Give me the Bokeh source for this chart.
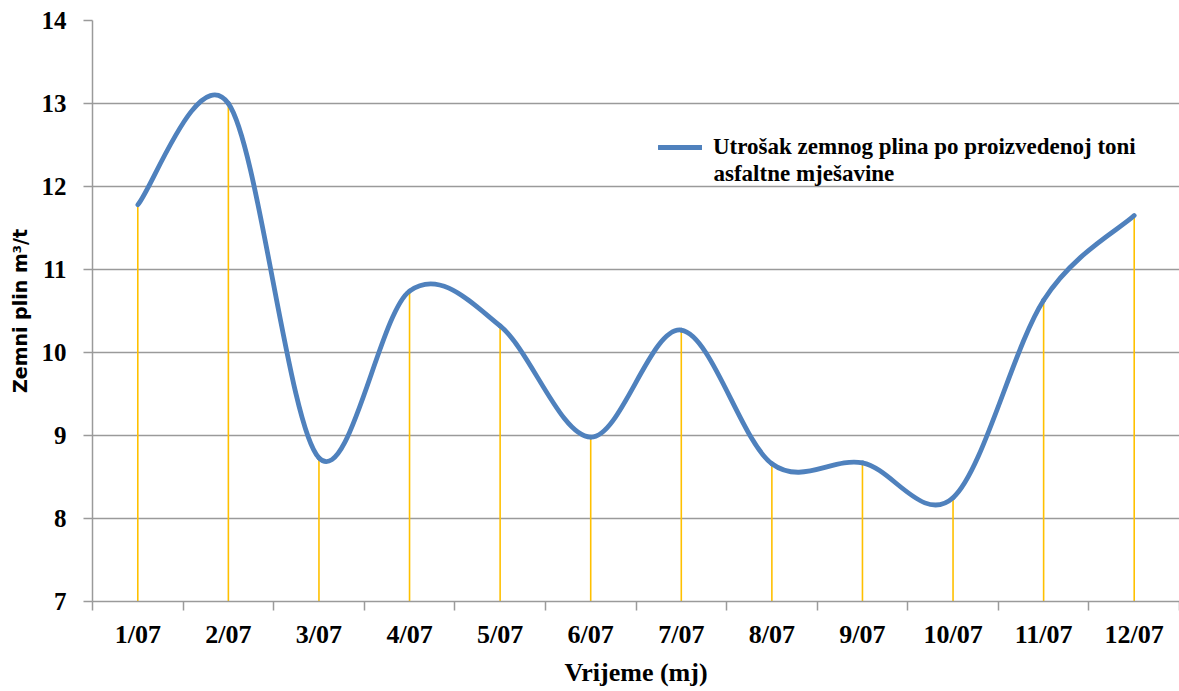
import numpy as np
from bokeh.plotting import figure
from bokeh.models import Range1d, FixedTicker, Legend, LegendItem, Label
from bokeh.embed import file_html
from bokeh.resources import INLINE

# ---- data ----
months = ["1/07", "2/07", "3/07", "4/07", "5/07", "6/07",
          "7/07", "8/07", "9/07", "10/07", "11/07", "12/07"]
values = [11.78, 13.0, 8.73, 10.74, 10.32, 8.98,
          10.27, 8.66, 8.67, 8.25, 10.63, 11.65]
y_ticks = [7, 8, 9, 10, 11, 12, 13, 14]
series_label = "Utrošak zemnog plina po proizvedenoj toni"
series_label2 = "asfaltne mješavine"

n = len(months)
x = np.arange(n) + 0.5
y = np.array(values, dtype=float)

# smoothed line (Catmull-Rom style bezier control points, like a spreadsheet "smoothed line")
xp = np.concatenate([[x[0]], x, [x[-1]]])
yp = np.concatenate([[y[0]], y, [y[-1]]])
P0x, P1x, P2x, P3x = xp[0:n-1], xp[1:n], xp[2:n+1], xp[3:n+2]
P0y, P1y, P2y, P3y = yp[0:n-1], yp[1:n], yp[2:n+1], yp[3:n+2]
cx0 = P1x + (P2x - P0x) / 6.0
cy0 = P1y + (P2y - P0y) / 6.0
cx1 = P2x - (P3x - P1x) / 6.0
cy1 = P2y - (P3y - P1y) / 6.0

GRID = "#9a9a9a"
SERIF = "'Liberation Serif', 'Times New Roman', serif"

p = figure(width=1179, height=691, output_backend="svg", toolbar_location=None,
           x_range=Range1d(0, n), y_range=Range1d(y_ticks[0], y_ticks[-1]),
           min_border_left=92, min_border_right=0, min_border_top=20, min_border_bottom=90)
p.outline_line_color = None
p.background_fill_color = "white"
p.border_fill_color = "white"

# drop lines
p.segment(x0=x, y0=[y_ticks[0]] * n, x1=x, y1=y, line_color="#FFC000", line_width=1.6)

# smooth line
r = p.bezier(x0=P1x, y0=P1y, x1=P2x, y1=P2y, cx0=cx0, cy0=cy0, cx1=cx1, cy1=cy1,
             line_color="#4F81BD", line_width=4.8, line_cap="round")

# x axis
p.xaxis.ticker = FixedTicker(ticks=list(x), minor_ticks=list(range(n + 1)))
p.xaxis.major_label_overrides = {float(xi): m for xi, m in zip(x, months)}
p.xaxis.major_tick_out = 0
p.xaxis.major_tick_in = 0
p.xaxis.minor_tick_out = 9
p.xaxis.minor_tick_in = 0
p.xaxis.minor_tick_line_color = GRID
p.xaxis.minor_tick_line_width = 1.5
p.xaxis.axis_line_color = GRID
p.xaxis.axis_line_width = 1.5
p.xaxis.major_label_standoff = 9
p.xaxis.major_label_text_font = SERIF
p.xaxis.major_label_text_font_style = "bold"
p.xaxis.major_label_text_font_size = "26px"
p.xaxis.major_label_text_color = "black"
p.xaxis.axis_label = "Vrijeme (mj)"
p.xaxis.axis_label_text_font = SERIF
p.xaxis.axis_label_text_font_style = "bold"
p.xaxis.axis_label_text_font_size = "26px"
p.xaxis.axis_label_text_color = "black"
p.xaxis.axis_label_standoff = 6
p.xgrid.visible = False

# y axis
p.yaxis.ticker = FixedTicker(ticks=y_ticks)
p.yaxis.major_tick_out = 9
p.yaxis.major_tick_in = 0
p.yaxis.major_tick_line_color = GRID
p.yaxis.major_tick_line_width = 1.5
p.yaxis.minor_tick_line_color = None
p.yaxis.axis_line_color = GRID
p.yaxis.axis_line_width = 1.5
p.yaxis.major_label_standoff = 17
p.yaxis.major_label_text_font = SERIF
p.yaxis.major_label_text_font_style = "bold"
p.yaxis.major_label_text_font_size = "25px"
p.yaxis.major_label_text_color = "black"
p.yaxis.axis_label = "Zemni plin m³/t"
p.yaxis.axis_label_text_font = "DejaVu Sans"
p.yaxis.axis_label_text_font_style = "bold"
p.yaxis.axis_label_text_font_size = "19px"
p.yaxis.axis_label_text_color = "black"
p.yaxis.axis_label_standoff = 8
p.ygrid.ticker = FixedTicker(ticks=y_ticks)
p.ygrid.grid_line_color = GRID
p.ygrid.grid_line_width = 1.5

# legend
legend = Legend(items=[LegendItem(label=series_label, renderers=[r])],
                location=(566, 441), orientation="vertical",
                glyph_width=44, glyph_height=24, label_standoff=11,
                padding=0, margin=0, spacing=0,
                border_line_color=None, background_fill_alpha=0,
                label_text_font=SERIF, label_text_font_style="bold",
                label_text_font_size="23px", label_text_color="black")
p.add_layout(legend)
p.add_layout(Label(x=621, y=416, x_units="screen", y_units="screen", text=series_label2,
                   text_font=SERIF, text_font_style="bold", text_font_size="23px",
                   text_color="black"))

open("out.html", "w").write(file_html(p, INLINE))
